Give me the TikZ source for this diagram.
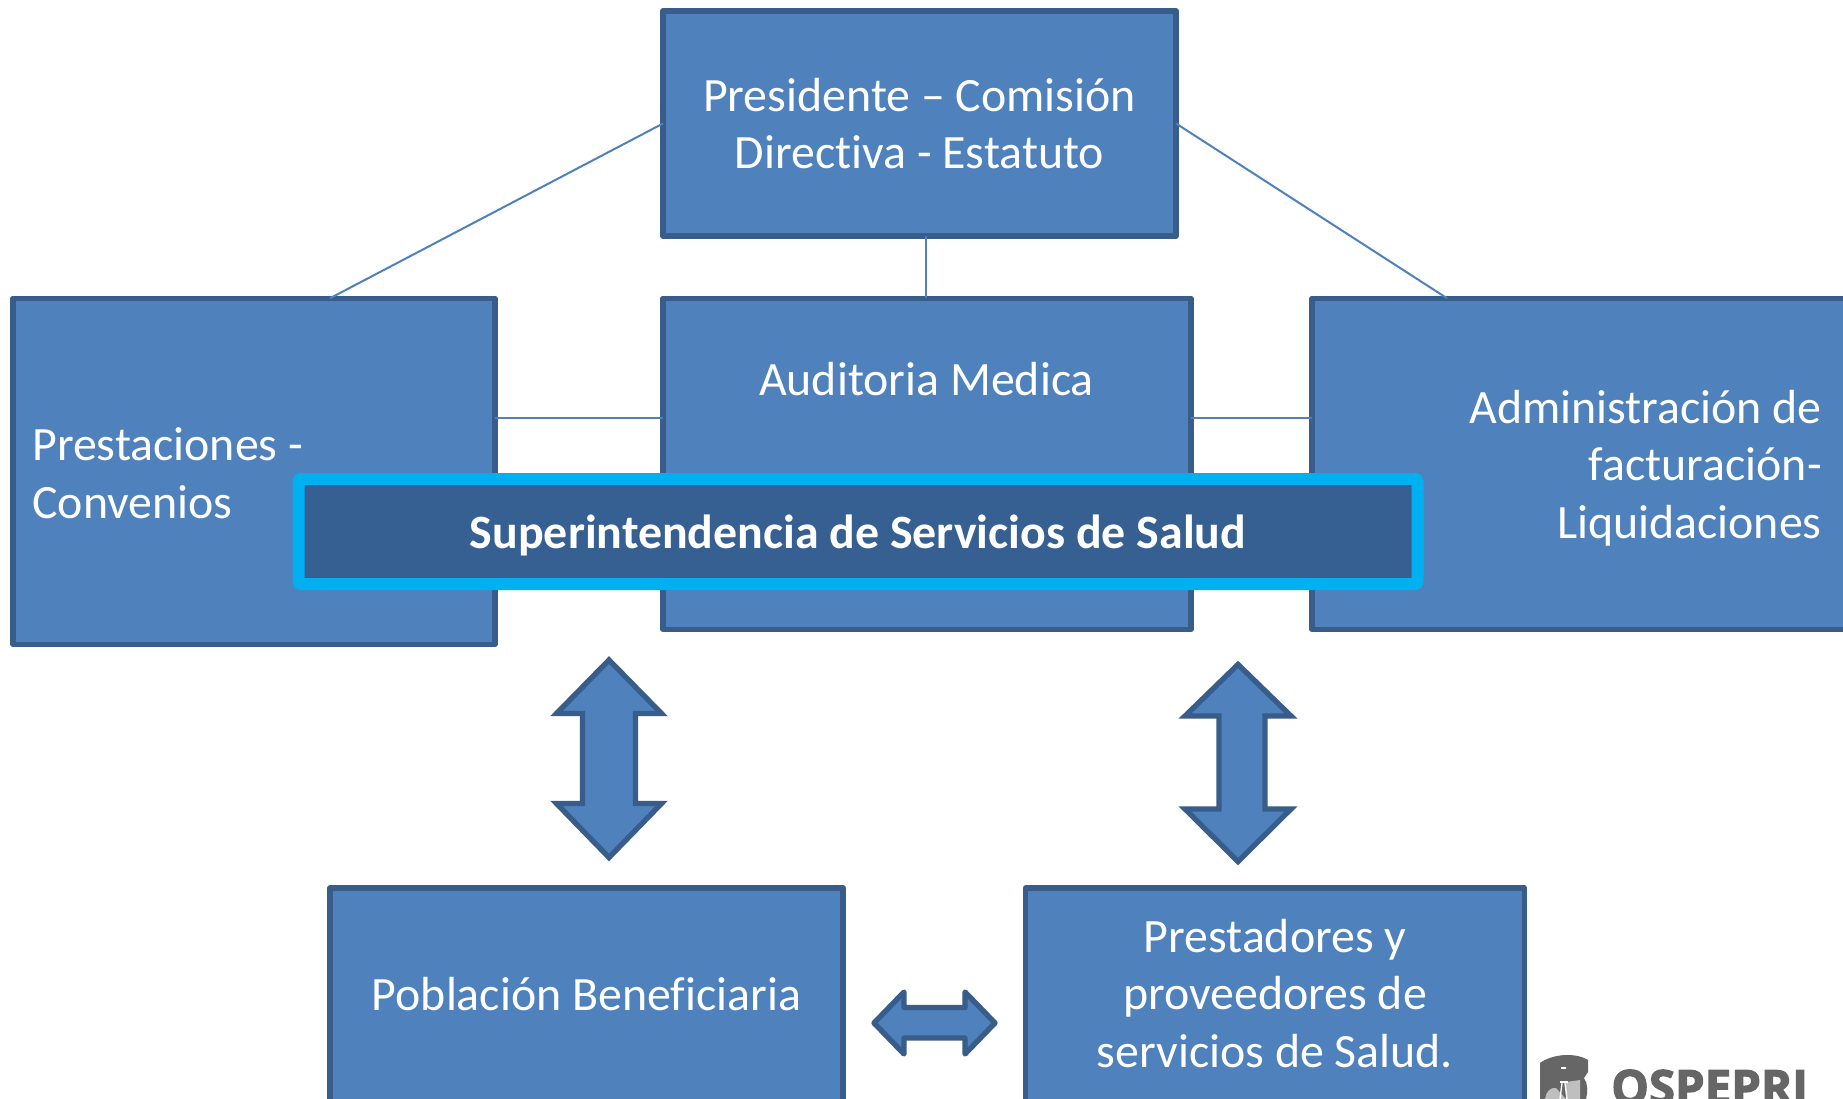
\documentclass[tikz,border=0pt]{standalone}
\usepackage{fontspec}
\setmainfont[Ligatures=NoCommon]{Carlito}
\newfontfamily\logofont[BoldFeatures={FakeBold=2.5}]{Open Sans}
\definecolor{boxfill}{HTML}{4F81BD}
\definecolor{boxline}{HTML}{385D8A}
\definecolor{ssfill}{HTML}{376092}
\definecolor{sscyan}{HTML}{00B0F0}
\definecolor{logogray}{HTML}{666666}
\tikzset{
  x=0.75pt,y=-0.75pt,
  bluebox/.style={draw=boxline,fill=boxfill,line width=4pt,rectangle,inner sep=0pt,outer sep=0pt,line join=round},
  wtext/.style={text=white,font=\fontsize{35.9}{43.2}\selectfont,align=center,inner sep=0pt},
  link/.style={draw=boxfill,line width=1.5pt},
  fatarrow/.style={draw=boxline,fill=boxfill,line width=4pt,line join=miter},
}
\begin{document}
\begin{tikzpicture}
\clip (0,0) rectangle (1843,1099);
\fill[white] (0,0) rectangle (1843,1099);
% boxes
\node[bluebox,minimum width={513*0.75pt},minimum height={225*0.75pt}] (pres) at (919.5,123.5) {};
\node[bluebox,minimum width={482*0.75pt},minimum height={346*0.75pt}] (left) at (254,471.25) {};
\node[bluebox,minimum width={528*0.75pt},minimum height={331*0.75pt}] (mid) at (927,463.75) {};
\node[bluebox,minimum width={588*0.75pt},minimum height={331*0.75pt}] (right) at (1606,463.75) {};
\node[bluebox,minimum width={513*0.75pt},minimum height={263*0.75pt}] (pob) at (586.5,1019.5) {};
\node[bluebox,minimum width={499*0.75pt},minimum height={263*0.75pt}] (prest) at (1275,1019.5) {};
% connector ends
\coordinate (leftTop) at (330,0 |- left.north);
\coordinate (rightTop) at (1447,0 |- right.north);
\coordinate (midTop) at (926,0 |- mid.north);
\coordinate (presBot) at (926,0 |- pres.south);
\coordinate (leftE) at (left.east |- 0,418);
\coordinate (midW) at (mid.west |- 0,418);
\coordinate (midE) at (mid.east |- 0,418);
\coordinate (rightW) at (right.west |- 0,418);
\draw[link] (pres.west) -- (leftTop);
\draw[link] (pres.east) -- (rightTop);
\draw[link] (presBot) -- (midTop);
\draw[link] (leftE) -- (midW);
\draw[link] (midE) -- (rightW);
% texts
\node[wtext] (t1) at (919.5,123.5) {Presidente – Comisión\\Directiva - Estatuto};
\node[wtext] (t2) at (926.5,379) {Auditoria Medica};
\node[wtext,anchor=west,align=left] (t3) at (32,473) {Prestaciones -\\Convenios};
\node[wtext,anchor=east,align=right] (t4) at (1822,468) {Administración de\\facturación-\\Liquidaciones};
\node[wtext] (t5) at (586.5,994) {Población Beneficiaria};
\node[wtext] (t6) at (1275,993.5) {Prestadores y\\proveedores de\\servicios de Salud.};
% highlighted band
\node[draw=sscyan,fill=ssfill,line width=9pt,rectangle,rounded corners=2pt,inner sep=0pt,outer sep=0pt,
  minimum width={1119*0.75pt},minimum height={105*0.75pt}] (ss) at (858,531.5) {};
\node[text=white,inner sep=0pt,font=\fontsize{35.9}{43.2}\selectfont\bfseries] (sst) at (858,535.5) {Superintendencia de Servicios de Salud};
% arrows
\draw[fatarrow] (609,660) -- (556.5,713.5) -- (582.5,713.5) -- (582.5,803.5) -- (556.5,803.5) -- (609,857.5) -- (661.5,803.5) -- (635.5,803.5) -- (635.5,713.5) -- (661.5,713.5) -- cycle;
\draw[fatarrow] (1238,664.5) -- (1185,716) -- (1219,716) -- (1219,809) -- (1185,809) -- (1238,861.5) -- (1291,809) -- (1265,809) -- (1265,716) -- (1291,716) -- cycle;
\draw[fatarrow,line join=round] (874,1023) -- (904,992) -- (904,1007.5) -- (965,1007.5) -- (965,992) -- (995,1023) -- (965,1054) -- (965,1038) -- (904,1038) -- (904,1054) -- cycle;
% logo
\fill[logogray] (1540,1063) .. controls (1552,1054) and (1575,1052) .. (1588,1060) -- (1588,1072) -- (1584,1078) .. controls (1588,1084) and (1588,1092) .. (1586,1099) -- (1540,1099) -- cycle;
\fill[black!25] (1545,1099) .. controls (1546,1092) and (1550,1087) .. (1556,1088) -- (1566,1099) -- cycle;
\fill[black!25] (1566,1099) -- (1566,1082) -- (1580,1080) -- (1580,1099) -- cycle;
\fill[white] (1561,1067) rectangle (1566,1069);
\fill[white] (1560,1081) rectangle (1568,1083);
\draw[black!60,line width=1pt] (1563.5,1069) -- (1563.5,1081);
\draw[white,line width=1pt] (1560,1099) -- (1562,1083) (1567,1099) -- (1565,1083);
\node[anchor=base west,inner sep=0pt,text=logogray,font=\logofont\fontsize{35.5}{35.5}\selectfont\bfseries] (logo) at (1611,1104) {OSPEPRI};
\end{tikzpicture}
\end{document}
